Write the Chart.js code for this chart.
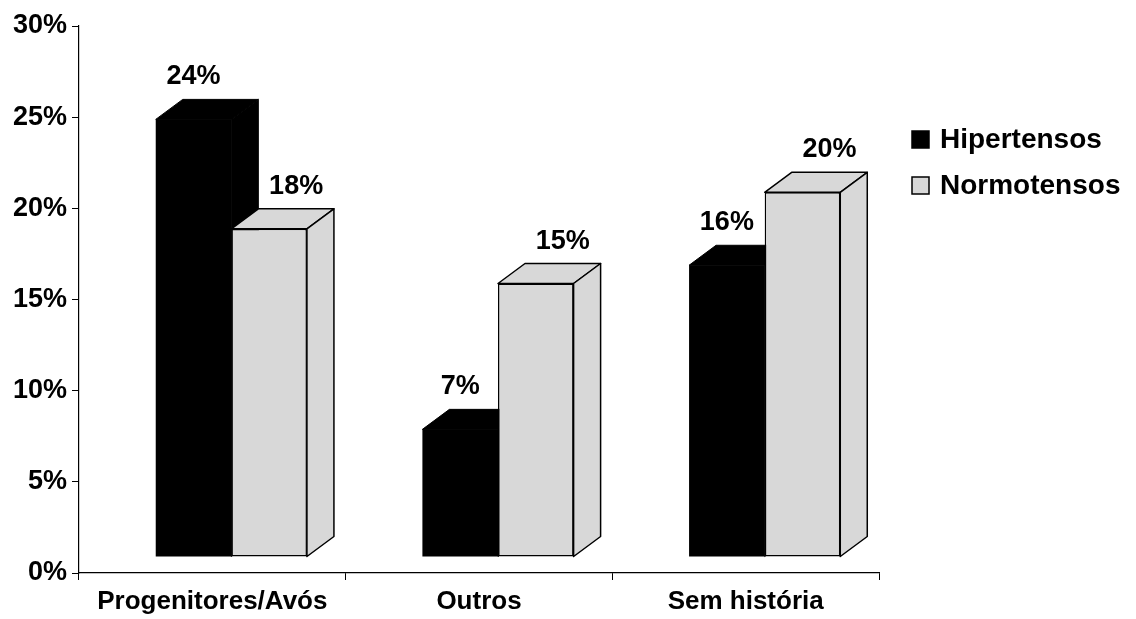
<!DOCTYPE html>
<html>
<head>
<meta charset="utf-8">
<script src="https://cdn.jsdelivr.net/npm/chart.js@4.4.1/dist/chart.umd.min.js"></script>
<style>
  html, body { margin: 0; padding: 0; background: #fff; }
</style>
</head>
<body>
<canvas id="myChart" width="1136" height="619"></canvas>
<script>
const categories = ['Progenitores/Avós', 'Outros', 'Sem história'];
const seriesNames = ['Hipertensos', 'Normotensos'];
const hipertensos = [24, 7, 16];
const normotensos = [18, 15, 20];
const yTicks = [0, 5, 10, 15, 20, 25, 30];

const FONT = "'Liberation Sans', Arial, sans-serif";
const depthX = 27, depthY = -20;   // depth of each 3d bar
const shiftX = 19, shiftY = -16;   // bars stand a bit in front of the axes

function drawFaces(ctx, bar, ds) {
	const { x, y, base, width } = bar.getProps(['x', 'y', 'base', 'width'], true);
	const l = x - width / 2, r = x + width / 2;
	ctx.fillStyle = ds.backgroundColor;
	ctx.strokeStyle = ds.borderColor;
	ctx.lineWidth = ds.borderWidth || 1;
	ctx.lineJoin = 'round';
	// top
	ctx.beginPath();
	ctx.moveTo(l, y);
	ctx.lineTo(l + depthX, y + depthY);
	ctx.lineTo(r + depthX, y + depthY);
	ctx.lineTo(r, y);
	ctx.closePath();
	ctx.fill();
	ctx.stroke();
	// right side
	ctx.beginPath();
	ctx.moveTo(r, y);
	ctx.lineTo(r + depthX, y + depthY);
	ctx.lineTo(r + depthX, base + depthY);
	ctx.lineTo(r, base);
	ctx.closePath();
	ctx.fill();
	ctx.stroke();
}

// bars are drawn group by group so the second series covers the first one's side
const depthBars = {
	id: 'depthBars',
	beforeDatasetDraw() {
		return false;
	},
	afterDatasetsDraw(chart) {
		const ctx = chart.ctx;
		const sets = chart.data.datasets;
		ctx.save();
		ctx.translate(shiftX, shiftY);
		categories.forEach((c, j) => {
			sets.forEach((ds, i) => {
				const bar = chart.getDatasetMeta(i).data[j];
				bar.draw(ctx);
				drawFaces(ctx, bar, ds);
			});
		});
		// value labels: first series over the front face, second over the top face
		ctx.font = 'bold 27px ' + FONT;
		ctx.fillStyle = '#000';
		ctx.textAlign = 'center';
		ctx.textBaseline = 'alphabetic';
		sets.forEach((ds, i) => {
			chart.getDatasetMeta(i).data.forEach((bar, j) => {
				const dx = i === 0 ? 0 : depthX;
				ctx.fillText(ds.data[j] + '%', bar.x + dx, bar.y + depthY - 15);
			});
		});
		ctx.restore();
	}
};

// legend to the right of the plot
const sideLegend = {
	id: 'sideLegend',
	afterDraw(chart) {
		const ctx = chart.ctx;
		const left = chart.chartArea.right + 33;
		ctx.save();
		ctx.font = 'bold 28px ' + FONT;
		ctx.textAlign = 'left';
		ctx.textBaseline = 'alphabetic';
		chart.data.datasets.forEach((ds, i) => {
			const top = 131 + i * 46;
			ctx.fillStyle = ds.backgroundColor;
			ctx.fillRect(left, top, 17, 17);
			ctx.strokeStyle = '#000';
			ctx.lineWidth = 1.5;
			ctx.strokeRect(left, top, 17, 17);
			ctx.fillStyle = '#000';
			ctx.fillText(ds.label, left + 28, top + 17);
		});
		ctx.restore();
	}
};

const ctx = document.getElementById('myChart').getContext('2d');
let myChart = new Chart(ctx, {
	type: 'bar',
	data: {
		labels: categories,
		datasets: [
			{
				label: seriesNames[0],
				data: hipertensos,
				backgroundColor: '#000000',
				borderColor: '#000000',
				borderWidth: 0,
				clip: false
			},
			{
				label: seriesNames[1],
				data: normotensos,
				backgroundColor: '#d8d8d8',
				borderColor: '#000000',
				borderWidth: 1.5,
				borderSkipped: false,
				clip: false
			}
		]
	},
	options: {
		responsive: false,
		animation: false,
		categoryPercentage: 0.567,
		barPercentage: 1,
		layout: { padding: { left: 0, top: 26, right: 257, bottom: 0 } },
		plugins: {
			legend: { display: false },
			tooltip: { enabled: false }
		},
		scales: {
			x: {
				grid: { display: true, drawOnChartArea: false, tickLength: 7, color: '#000', offset: true },
				border: { color: '#000', width: 1.2 },
				ticks: { color: '#000', font: { family: FONT, size: 26, weight: 'bold' }, padding: 6 },
				afterFit(scale) { scale.height = 46; }
			},
			y: {
				min: yTicks[0],
				max: yTicks[yTicks.length - 1],
				grid: { display: true, drawOnChartArea: false, tickLength: 7, color: '#000' },
				border: { color: '#000', width: 1.2 },
				ticks: {
					stepSize: yTicks[1] - yTicks[0],
					color: '#000',
					font: { family: FONT, size: 27, weight: 'bold' },
					padding: 5,
					callback: v => v + '%'
				},
				afterFit(scale) { scale.width = 79; }
			}
		}
	},
	plugins: [depthBars, sideLegend]
});
</script>
</body>
</html>
